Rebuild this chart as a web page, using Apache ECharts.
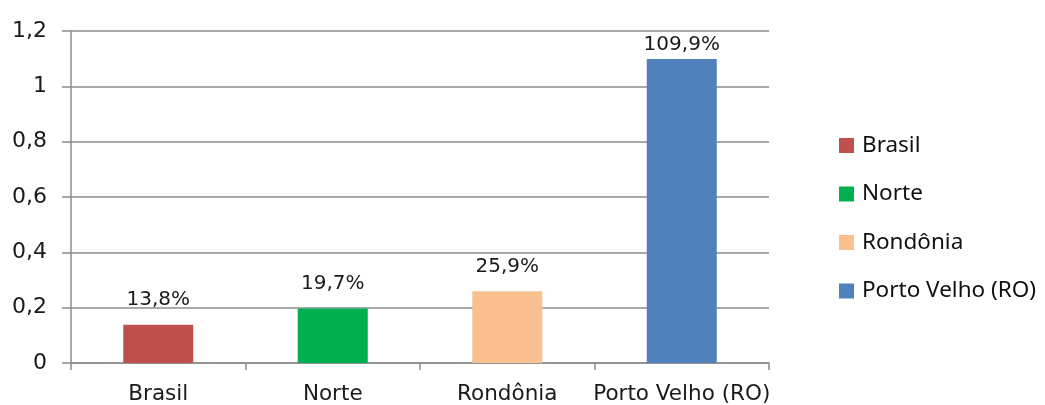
<!DOCTYPE html>
<html>
<head>
<meta charset="utf-8">
<script src="https://cdn.jsdelivr.net/npm/echarts@6/dist/echarts.min.js"></script>
<style>
  html, body { margin: 0; padding: 0; background: #fff; }
  #chart { width: 1045px; height: 405px; }
</style>
</head>
<body>
<div id="chart"></div>
<script>
// Categories and their values (shares as fractions)
const categories = ['Brasil', 'Norte', 'Rondônia', 'Porto Velho (RO)'];
const values = [0.138, 0.197, 0.259, 1.099];
const colors = ['#C0504D', '#00B050', '#FAC090', '#4F81BD'];
const yTicks = { min: 0, max: 1.2, interval: 0.2 };

const axisFont = 'DejaVu Sans';
const gridColor = '#8c8c8c';

function pct(v) {
  return (v * 100).toFixed(1).replace('.', ',') + '%';
}

// One series per category so each gets its own legend entry; stacking keeps bars centred.
// The tallest bar's label sits closer to its bar so it stays inside the plot.
const series = categories.map((name, i) => ({
  name: name,
  type: 'bar',
  stack: 'all',
  barWidth: 70,
  itemStyle: { color: colors[i] },
  label: {
    show: true,
    position: 'top',
    distance: values[i] > 1 ? 4 : 15,
    fontFamily: axisFont,
    fontSize: 20,
    color: '#1a1a1a',
    formatter: p => pct(p.value)
  },
  data: categories.map((c, j) => (j === i ? values[i] : '-'))
}));

const chart = echarts.init(document.getElementById('chart'), null, { renderer: 'canvas' });
chart.setOption({
  animation: false,
  backgroundColor: '#fff',
  grid: { left: 71, right: 1045 - 769, top: 31, bottom: 42, containLabel: false },
  legend: {
    orient: 'vertical',
    left: 839,
    top: 134,
    padding: 0,
    itemWidth: 15,
    itemHeight: 15,
    itemGap: 26.5 - 1,
    icon: 'rect',
    textStyle: { fontFamily: 'Noto Sans', fontSize: 22.5, color: '#111', lineHeight: 22, padding: [0, 0, 0, 3] },
    data: categories
  },
  xAxis: {
    type: 'category',
    data: categories,
    axisLine: { lineStyle: { color: gridColor, width: 1.5 } },
    axisTick: { show: true, interval: 0, length: 7, lineStyle: { color: gridColor, width: 1.5 } },
    axisLabel: { interval: 0, fontFamily: axisFont, fontSize: 21.5, color: '#1a1a1a', margin: 20 }
  },
  yAxis: {
    type: 'value',
    min: yTicks.min,
    max: yTicks.max,
    interval: yTicks.interval,
    axisLine: { show: true, lineStyle: { color: gridColor, width: 1.5 } },
    axisTick: { show: true, length: 9, lineStyle: { color: gridColor, width: 1.5 } },
    splitLine: { lineStyle: { color: gridColor, width: 1.5 } },
    axisLabel: {
      fontFamily: axisFont,
      fontSize: 22,
      color: '#1a1a1a',
      margin: 24,
      formatter: v => String(Math.round(v * 10) / 10).replace('.', ',')
    }
  },
  series: series
});
</script>
</body>
</html>
